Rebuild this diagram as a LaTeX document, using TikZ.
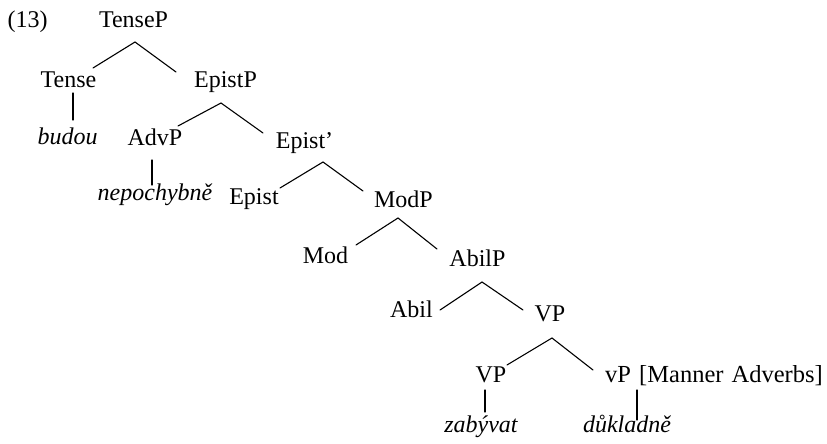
\documentclass[tikz,border=0pt]{standalone}
\usepackage{fontspec}
\setmainfont{Liberation Serif}
\begin{document}
\begin{tikzpicture}[x=1pt,y=-1pt,
  lbl/.style={inner sep=0pt,anchor=base,font=\fontsize{24}{28}\selectfont},
  wrd/.style={lbl,font=\fontsize{24}{28}\selectfont\itshape},
  edge/.style={line width=1.1pt,line cap=round}]
\useasboundingbox (0,0) rectangle (827,444);
% labels
\node[lbl] (ex)     at (27.5,28)  {(13)};
\node[lbl] (TenseP) at (133.5,28) {TenseP};
\node[lbl] (Tense)  at (68.5,88)  {Tense};
\node[lbl] (EpistP) at (225.5,88) {EpistP};
\node[wrd] (budou)  at (67.5,144) {budou};
\node[lbl] (AdvP)   at (155,145)  {AdvP};
\node[lbl] (EpistB) at (304.5,148){Epist’};
\node[wrd] (nepo)   at (155,200)  {nepochybně};
\node[lbl] (Epist)  at (254,204)  {Epist};
\node[lbl] (ModP)   at (403.5,207){ModP};
\node[lbl] (Mod)    at (325.5,263){Mod};
\node[lbl] (AbilP)  at (477.5,266){AbilP};
\node[lbl] (Abil)   at (411.5,317){Abil};
\node[lbl] (VPa)    at (550,321)  {VP};
\node[lbl] (VPb)    at (491,382)  {VP};
\node[lbl,anchor=base west,font=\fontsize{24.5}{28}\selectfont] (vPm) at (605,382) {vP\hspace{2pt} [Manner\hspace{2pt} Adverbs]};
\node[wrd] (zaby)   at (481,432)  {zabývat};
\node[wrd] (dukl)   at (627,432)  {důkladně};
% branches
\draw[edge] ([shift={(1.5,14)}]TenseP.base) -- ([shift={(24.5,-20)}]Tense.base);
\draw[edge] ([shift={(1.5,14)}]TenseP.base) -- ([shift={(-49.5,-16)}]EpistP.base);
\draw[edge] ([shift={(4.5,5)}]Tense.base) -- ([shift={(5.5,-24)}]budou.base);
\draw[edge] ([shift={(-4.5,15)}]EpistP.base) -- ([shift={(23,-19)}]AdvP.base);
\draw[edge] ([shift={(-4.5,15)}]EpistP.base) -- ([shift={(-41.5,-15)}]EpistB.base);
\draw[edge] ([shift={(-3,15)}]AdvP.base) -- ([shift={(-3,-15)}]nepo.base);
\draw[edge] ([shift={(18.5,14)}]EpistB.base) -- ([shift={(26,-16)}]Epist.base);
\draw[edge] ([shift={(18.5,14)}]EpistB.base) -- ([shift={(-40.5,-16)}]ModP.base);
\draw[edge] ([shift={(-5.5,11)}]ModP.base) -- ([shift={(30.5,-18)}]Mod.base);
\draw[edge] ([shift={(-5.5,11)}]ModP.base) -- ([shift={(-40.5,-17)}]AbilP.base);
\draw[edge] ([shift={(4.5,16)}]AbilP.base) -- ([shift={(28.5,-7)}]Abil.base);
\draw[edge] ([shift={(4.5,16)}]AbilP.base) -- ([shift={(-27,-11)}]VPa.base);
\draw[edge] ([shift={(2,17)}]VPa.base) -- ([shift={(16,-17)}]VPb.base);
\draw[edge] ([shift={(2,17)}]VPa.base) -- ([shift={(-12,-12)}]vPm.base west);
\draw[edge] ([shift={(-6,8)}]VPb.base) -- ([shift={(4,-20)}]zaby.base);
\draw[edge] ([shift={(32,8)}]vPm.base west) -- ([shift={(10,-12)}]dukl.base);
\end{tikzpicture}
\end{document}
